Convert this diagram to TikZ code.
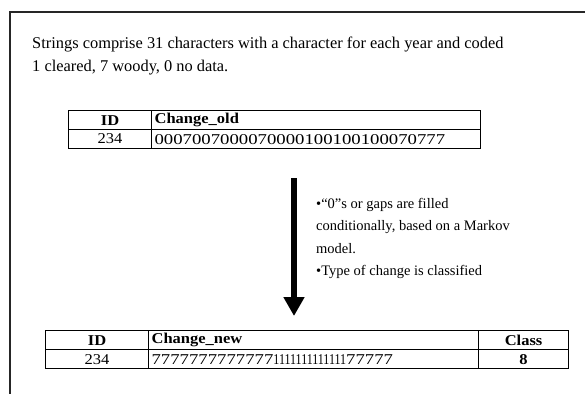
\documentclass[tikz,border=0pt]{standalone}
\usepackage{fontspec}
\setmainfont{Liberation Serif}
\usepackage{graphicx}
\usetikzlibrary{arrows.meta}
\newcommand\hd[1]{\scalebox{1.1}[1]{\bfseries #1}}
\newcommand\num[1]{\scalebox{1.1}[1]{#1}}
\newcommand\wide[1]{\scalebox{1.25}[1]{#1}}
\newcommand\thin[1]{\scalebox{0.8}[1]{#1}}
\begin{document}
\begin{tikzpicture}[x=1pt,y=-1pt,
  frame/.style={line width=1.4pt, black!85},
  cell/.style={draw, line width=1.2pt, anchor=north west, minimum height=19pt, inner sep=0pt, font=\fontsize{15}{16}\selectfont},
  lcell/.style={cell, align=left, inner xsep=3pt, text width=#1},
  body/.style={anchor=north west, align=left, inner sep=0pt},
  bigarrow/.style={line width=6pt, -{Triangle[width=20pt,length=19pt]}},
]
\useasboundingbox (0,0) rectangle (585,394);
% frame
\coordinate (fr1) at (585,12);
\coordinate (fr2) at (10,12);
\coordinate (fr3) at (10,394);
\draw[frame] (fr1) -- (fr2) -- (fr3);
% intro text
\node[body, font=\fontsize{16.4}{23}\selectfont] (intro) at (32,37)
  {Strings comprise 31 characters with a character for each year and coded\\1 cleared, 7 woody, 0 no data.};
% top table
\node[cell, minimum width=83pt] (t1a) at (68,110) {\hd{ID}};
\node[lcell=323pt] (t1b) at (151,110) {\hd{Change\_old}};
\node[cell, minimum width=83pt] (t1c) at (68,129) {\num{234}};
\node[lcell=323pt] (t1d) at (151,129) {\wide{0007007000070000100100100070777}};
% arrow
\coordinate (as) at (294,178);
\coordinate (at) at (294,316);
\draw[bigarrow] (as) -- (at);
% note
\node[body, font=\fontsize{14.5}{22.5}\selectfont] (note) at (316,198)
  {•“0”s or gaps are filled\\conditionally, based on a Markov\\model.\\•Type of change is classified};
% bottom table
\node[cell, minimum width=103pt] (t2a) at (45,330) {\hd{ID}};
\node[lcell=324pt] (t2b) at (148,330) {\hd{Change\_new}};
\node[cell, minimum width=90pt] (t2c) at (478,330) {\hd{Class}};
\node[cell, minimum width=103pt] (t2d) at (45,349) {\num{234}};
\node[lcell=324pt] (t2e) at (148,349) {\wide{7777777777777}\thin{1111111111111}\wide{77777}};
\node[cell, minimum width=90pt] (t2f) at (478,349) {\hd{8}};
\end{tikzpicture}
\end{document}
